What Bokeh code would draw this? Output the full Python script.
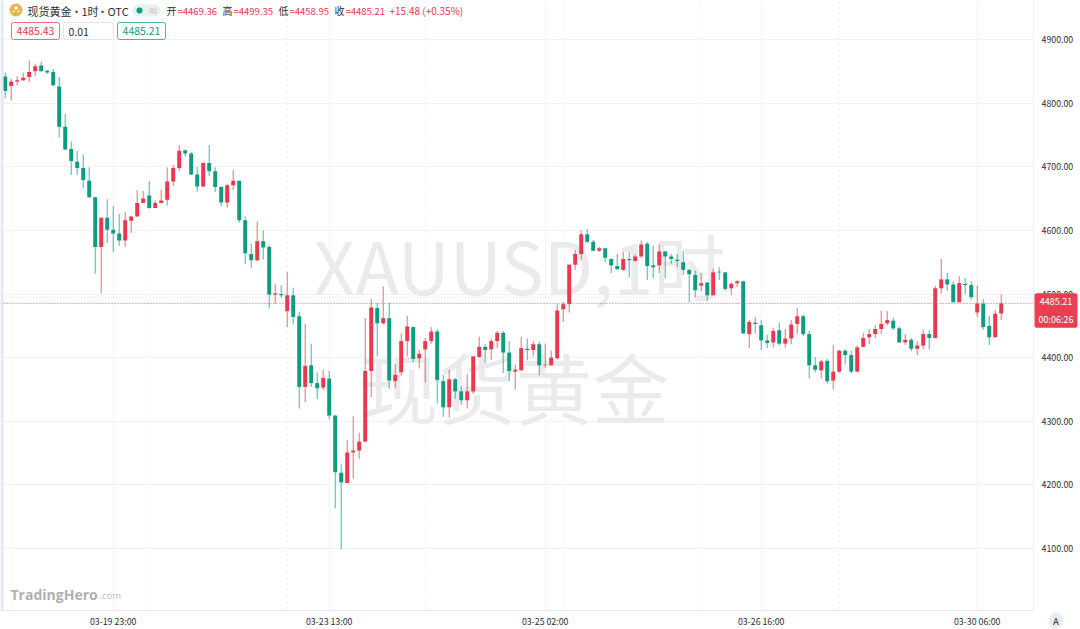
from bokeh.plotting import figure
from bokeh.embed import file_html
from bokeh.resources import INLINE
from bokeh.models import (ColumnDataSource, FixedTicker, Range1d, Label, BoxAnnotation, Span,
                          NumeralTickFormatter)

title_parts = [("现货黄金", 27, "left"), ("•", 76, "center"), ("1时", 81, "left"),
               ("•", 102, "center"), ("OTC", 107, "left")]
ohlc_text = [("开", "=4469.36"), ("高", "=4499.35"), ("低", "=4458.95"), ("收", "=4485.21")]
change_text = "+15.48 (+0.35%)"
x_tick_index = [18, 54, 90, 126, 162]
x_tick_labels = ["03-19 23:00", "03-23 13:00", "03-25 02:00", "03-26 16:00", "03-30 06:00"]
x_minor_index = [1, 24, 47, 70, 93, 116, 139, 162]
y_ticks = [4100, 4200, 4300, 4400, 4500, 4600, 4700, 4800, 4900]
last_price = 4485.21

opens = [
 4842,4827,4834,4836,4841,4850,4859,4851,4849,4826,
 4763,4728,4708,4698,4678,4652,4574,4620,4601,4595,
 4584,4615,4622,4643,4655,4635,4643,4648,4677,4698,
 4726,4721,4688,4669,4706,4693,4668,4644,4671,4678,
 4616,4563,4553,4583,4574,4499,4500,4473,4498,4465,
 4354,4388,4360,4353,4367,4309,4219,4203,4251,4254,
 4268,4379,4478,4454,4462,4363,4377,4426,4448,4399,
 4413,4426,4441,4363,4322,4366,4347,4333,4347,4401,
 4417,4413,4426,4439,4408,4378,4380,4414,4412,4421,
 4388,4388,4399,4476,4484,4546,4563,4594,4582,4568,
 4572,4555,4544,4538,4555,4552,4559,4579,4545,4545,
 4567,4559,4554,4550,4538,4530,4513,4518,4498,4535,
 4534,4509,4517,4520,4437,4455,4451,4427,4424,4443,
 4422,4430,4453,4465,4437,4388,4380,4395,4364,4378,
 4411,4404,4378,4417,4432,4437,4445,4454,4458,4446,
 4424,4428,4414,4419,4437,4431,4509,4523,4515,4487,
 4516,4514,4471,4485,4450,4432,4469.36]
closes = [
 4819,4834,4836,4840,4849,4858,4850,4848,4828,4763,
 4727,4709,4698,4679,4652,4574,4620,4601,4595,4584,
 4616,4622,4643,4650,4635,4643,4647,4677,4698,4725,
 4721,4688,4669,4706,4693,4668,4644,4671,4678,4616,
 4564,4553,4583,4573,4499,4501,4498,4498,4464,4354,
 4387,4360,4352,4368,4309,4220,4204,4251,4254,4268,
 4379,4479,4454,4462,4364,4373,4426,4449,4398,4406,
 4426,4441,4365,4322,4366,4347,4333,4347,4402,4417,
 4412,4426,4439,4408,4379,4381,4415,4412,4421,4388,
 4389,4400,4474,4484,4546,4563,4594,4582,4568,4572,
 4557,4545,4539,4555,4553,4559,4578,4544,4542,4567,
 4559,4555,4552,4538,4531,4506,4517,4498,4534,4534,
 4508,4516,4520,4438,4456,4453,4427,4423,4442,4422,
 4430,4452,4465,4437,4388,4381,4394,4363,4378,4411,
 4404,4378,4416,4431,4437,4445,4453,4459,4446,4424,
 4428,4414,4419,4437,4431,4509,4523,4515,4487,4517,
 4514,4495,4485,4448,4432,4469,4485.21]
highs = [
 4848,4838,4842,4848,4867,4862,4865,4852,4854,4841,
 4783,4740,4725,4719,4699,4653,4620,4649,4638,4626,
 4629,4623,4663,4662,4677,4647,4664,4699,4703,4734,
 4727,4723,4700,4707,4734,4699,4669,4673,4695,4678,
 4622,4579,4614,4600,4577,4516,4514,4535,4510,4472,
 4453,4422,4377,4381,4379,4310,4232,4270,4308,4282,
 4462,4492,4486,4512,4486,4390,4438,4466,4449,4412,
 4431,4448,4445,4373,4381,4368,4356,4374,4402,4433,
 4421,4430,4442,4442,4426,4389,4433,4430,4426,4425,
 4422,4411,4484,4487,4547,4569,4600,4602,4585,4574,
 4573,4556,4563,4566,4566,4562,4584,4582,4576,4578,
 4568,4563,4563,4568,4540,4537,4533,4519,4540,4542,
 4534,4519,4522,4521,4459,4464,4459,4436,4447,4455,
 4445,4459,4478,4468,4442,4401,4397,4398,4420,4412,
 4413,4411,4419,4439,4445,4451,4474,4473,4463,4449,
 4437,4431,4426,4444,4443,4513,4555,4533,4520,4528,
 4525,4520,4513,4492,4466,4475,4499.35]
lows = [
 4808,4804,4828,4835,4833,4842,4850,4846,4827,4746,
 4726,4687,4687,4666,4651,4532,4501,4580,4566,4576,
 4574,4596,4622,4643,4634,4635,4643,4639,4670,4693,
 4716,4687,4661,4668,4685,4660,4638,4636,4663,4612,
 4547,4541,4552,4554,4477,4485,4494,4448,4452,4320,
 4330,4354,4335,4349,4303,4163,4099,4203,4210,4241,
 4268,4338,4402,4452,4351,4352,4372,4402,4393,4383,
 4361,4422,4328,4307,4306,4335,4326,4320,4343,4400,
 4391,4396,4415,4376,4363,4350,4380,4396,4402,4372,
 4384,4388,4397,4456,4471,4538,4553,4580,4567,4566,
 4550,4533,4538,4536,4526,4551,4557,4522,4525,4533,
 4525,4547,4542,4530,4487,4495,4504,4489,4498,4522,
 4505,4499,4511,4438,4415,4438,4412,4415,4416,4419,
 4416,4421,4437,4434,4367,4377,4367,4359,4350,4376,
 4389,4375,4377,4416,4421,4431,4437,4451,4443,4423,
 4420,4410,4404,4413,4413,4430,4501,4505,4487,4487,
 4500,4491,4464,4444,4420,4432,4458.95]

RED = "#e8394d"
GREEN = "#0f9b80"
FONT = "Noto Sans CJK SC"
FW, FH = 1033, 610
X0, X1 = -0.783, 171.38

p = figure(width=1080, height=629, frame_width=FW, frame_height=FH, output_backend="svg",
           toolbar_location=None, y_axis_location="right", min_border=0,
           x_range=Range1d(X0, X1), y_range=Range1d(4002.6, 4961.3),
           background_fill_color="white", border_fill_color="white",
           margin=(0, 0, 0, 0))
p.outline_line_color = None

# axes
p.yaxis.ticker = FixedTicker(ticks=y_ticks)
p.yaxis.formatter = NumeralTickFormatter(format="0.00")
p.yaxis.major_tick_line_color = None
p.yaxis.minor_tick_line_color = None
p.yaxis.major_tick_out = 0
p.yaxis.major_tick_in = 0
p.yaxis.minor_tick_out = 0
p.yaxis.axis_line_color = "#eceef3"
p.yaxis.major_label_standoff = 8
p.yaxis.major_label_text_font = FONT
p.yaxis.major_label_text_font_size = "8.8px"
p.yaxis.major_label_text_color = "#2a2e39"
p.xaxis.ticker = FixedTicker(ticks=x_tick_index)
p.xaxis.major_label_overrides = dict(zip(x_tick_index, x_tick_labels))
p.xaxis.major_tick_line_color = None
p.xaxis.minor_tick_line_color = None
p.xaxis.major_tick_out = 0
p.xaxis.major_tick_in = 0
p.xaxis.minor_tick_out = 0
p.xaxis.axis_line_color = "#e6e8ee"
p.xaxis.major_label_standoff = 4
p.xaxis.major_label_text_font = FONT
p.xaxis.major_label_text_font_size = "8.8px"
p.xaxis.major_label_text_color = "#2a2e39"

p.xgrid.ticker = FixedTicker(ticks=x_tick_index)
p.ygrid.ticker = FixedTicker(ticks=y_ticks)
p.xgrid.grid_line_color = "#f3f4f8"
p.ygrid.grid_line_color = "#f1f2f6"

for ix in x_minor_index:
    p.add_layout(Span(location=ix, dimension="height", line_color="#eff0f5",
                      line_dash="3 3", line_width=1, level="underlay"))


def label(x, y, text, size, color, align="left", weight="normal", level="annotation",
          font=FONT):
    p.add_layout(Label(x=x, y=FH - y, x_units="screen", y_units="screen", text=text,
                       text_font=font, text_font_size=f"{size}px", text_color=color,
                       text_align=align, text_baseline="middle", text_font_style=weight,
                       level=level))


def outer_label(x, y, text, size, color, bg, pad, radius, weight="normal"):
    # annotations in a side panel are not clipped to the plot frame
    p.add_layout(Label(x=x, y=y, x_units="canvas", y_units="canvas", text=text,
                       text_font=FONT, text_font_size=f"{size}px", text_color=color,
                       text_align="center", text_baseline="middle", text_font_style=weight,
                       text_line_height=1.35, background_fill_color=bg, padding=pad,
                       border_radius=radius, level="annotation"), "right")


def box(x0, y0, x1, y1, fill, line=None, radius=0):
    p.add_layout(BoxAnnotation(left=x0, right=x1, top=FH - y0, bottom=FH - y1,
                               left_units="screen", right_units="screen",
                               top_units="screen", bottom_units="screen",
                               fill_color=fill, fill_alpha=1,
                               line_color=line, line_alpha=1 if line else 0,
                               border_radius=radius, level="annotation", editable=False))


# watermark
label(519, 263, "XAUUSD,1时", 72, "#ebebee", "center", level="underlay")
label(515, 385, "现货黄金", 77, "#ebebee", "center", level="underlay")

# candles
idx = list(range(len(opens)))
up = [i for i in idx if closes[i] >= opens[i]]
dn = [i for i in idx if closes[i] < opens[i]]
for ids, col in ((up, RED), (dn, GREEN)):
    src = ColumnDataSource(dict(
        x=ids,
        o=[opens[i] for i in ids], c=[closes[i] for i in ids],
        h=[highs[i] for i in ids], l=[lows[i] for i in ids]))
    p.segment("x", "l", "x", "h", source=src, line_color=col, line_width=1, line_alpha=0.75)
    p.vbar(x="x", width=0.66, bottom="o", top="c", source=src, fill_color=col, line_color=None)

# last price line
p.line([X0, X1], [last_price, last_price], line_color="#f2566a", line_dash="1 2", line_width=1)

# left strip
box(0, 0, 3, 610, "#e6e8f2")

# header
box(9, 3, 22, 16, "#e9b44c", None, 7)
box(12, 10, 14, 12, "#ffffff", None, 1)
box(17, 10, 19, 12, "#ffffff", None, 1)
box(14, 6, 17, 9, "#ffffff", None, 1)
for text, x, align in title_parts:
    label(x, 10, text, 11, "#2a2e39", align)
box(132, 4, 160, 16, "#e3f4ef", None, 6)
box(136, 7, 142, 13, GREEN, None, 3)
label(153, 10, "≈", 10, "#f0a0a8", "center")
for (name, val), x in zip(ohlc_text, [166, 222, 278, 334]):
    label(x, 10, name, 10, "#2a2e39")
    label(x + 11, 10, val, 9.5, RED)
label(389, 10, change_text, 10, RED)

box(11, 22, 59, 39, "#ffffff", "#e9707f", 2)
label(35, 30.5, "4485.43", 10.5, RED, "center")
box(63, 22, 113, 39, "#ffffff", "#e3e5ea", 2)
label(68, 31, "0.01", 10.5, "#2a2e39")
box(117, 22, 165, 39, "#ffffff", "#4bb39f", 2)
label(141, 30.5, "4485.21", 10.5, GREEN, "center")

# price tag
outer_label(1055.5, 310, "4485.21\n00:06:26", 9, "#ffffff", "#ea3f52", (4, 2), 2)

# logo
label(10, 593.5, "TradingHero", 14, "#aeb0b3", weight="bold", font="Open Sans")
label(99, 595, ".com", 9.5, "#bcbec2", font="Open Sans")

# auto button
outer_label(1055.5, 620, "A", 9.5, "#2a2e39", "#e9ebf2", (4, 1), 7)

open("out.html", "w").write(file_html(p, INLINE))
